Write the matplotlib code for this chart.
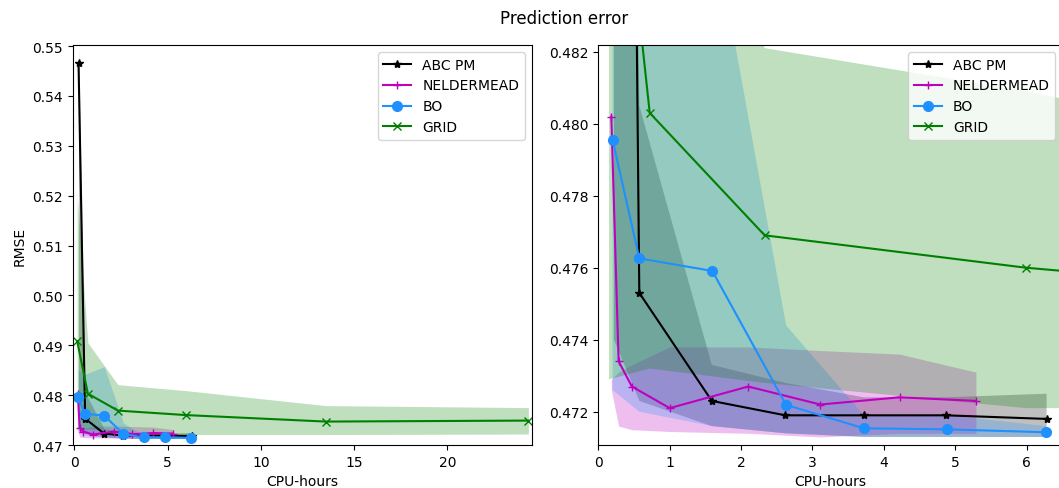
import matplotlib
matplotlib.use('Agg')
from matplotlib import pyplot as plt

# CPU-hours / RMSE per method, with lower and upper band
abc_x = [0.22, 0.574, 1.59, 2.62, 3.72, 4.87, 6.28]
abc_y = [0.5466, 0.4753, 0.4723, 0.4719, 0.4719, 0.4719, 0.4718]
abc_lo = [0.4740, 0.4723, 0.4716, 0.4714, 0.4713, 0.4713, 0.4713]
abc_hi = [0.5500, 0.4805, 0.4733, 0.4728, 0.4724, 0.4724, 0.4725]

nm_x = [0.182, 0.284, 0.47, 1.0, 2.10, 3.11, 4.22, 5.29]
nm_y = [0.4802, 0.4734, 0.4727, 0.4721, 0.4727, 0.4722, 0.4724, 0.4723]
nm_lo = [0.4726, 0.4716, 0.4715, 0.47145, 0.4714, 0.4713, 0.4714, 0.4714]
nm_hi = [0.4729, 0.4731, 0.4733, 0.4738, 0.4738, 0.4737, 0.4736, 0.4731]

bo_x = [0.20, 0.574, 1.597, 2.63, 3.72, 4.88, 6.27]
bo_y = [0.47955, 0.47626, 0.47591, 0.47219, 0.47154, 0.47151, 0.47143]
bo_lo = [0.4726, 0.4720, 0.4716, 0.4714, 0.4713, 0.4713, 0.4713]
bo_hi = [0.4850, 0.4842, 0.4857, 0.4744, 0.4719, 0.4719, 0.4716]

grid_x = [0.15, 0.72, 2.33, 5.99, 13.48, 24.34]
grid_y = [0.4908, 0.4803, 0.4769, 0.4760, 0.4747, 0.4749]
grid_lo = [0.4729, 0.4732, 0.4728, 0.4721, 0.4721, 0.4722]
grid_hi = [0.5200, 0.4905, 0.4821, 0.4809, 0.4779, 0.4775]

methods = [
    ('ABC PM', abc_x, abc_y, abc_lo, abc_hi, 'k', '*', 6),
    ('NELDERMEAD', nm_x, nm_y, nm_lo, nm_hi, 'm', '+', 6),
    ('BO', bo_x, bo_y, bo_lo, bo_hi, 'dodgerblue', 'o', 7),
    ('GRID', grid_x, grid_y, grid_lo, grid_hi, 'g', 'x', 6),
]

fig = plt.figure(figsize=(10.59, 4.89), dpi=100)
ax1 = fig.add_axes([0.0687, 0.0879, 0.4334, 0.818])
ax2 = fig.add_axes([0.565, 0.0879, 0.4381, 0.818])

for ax in (ax1, ax2):
    for name, x, y, lo, hi, c, m, ms in methods:
        ax.plot(x, y, color=c, marker=m, markersize=ms, label=name)
        ax.fill_between(x, lo, hi, color=c, alpha=0.25, linewidth=0)
    ax.set_xlabel('CPU-hours')
    ax.legend(loc='upper right')

ax1.set_xlim(-0.09, 24.52)
ax1.set_ylim(0.47, 0.5502)
ax1.set_ylabel('RMSE')

ax2.set_xlim(0, 6.5)
ax2.set_ylim(0.471075, 0.482186)
ax2.set_yticks([0.472, 0.474, 0.476, 0.478, 0.480, 0.482])

fig.suptitle('Prediction error', x=0.5326)
fig.savefig('out.png', dpi=100)
